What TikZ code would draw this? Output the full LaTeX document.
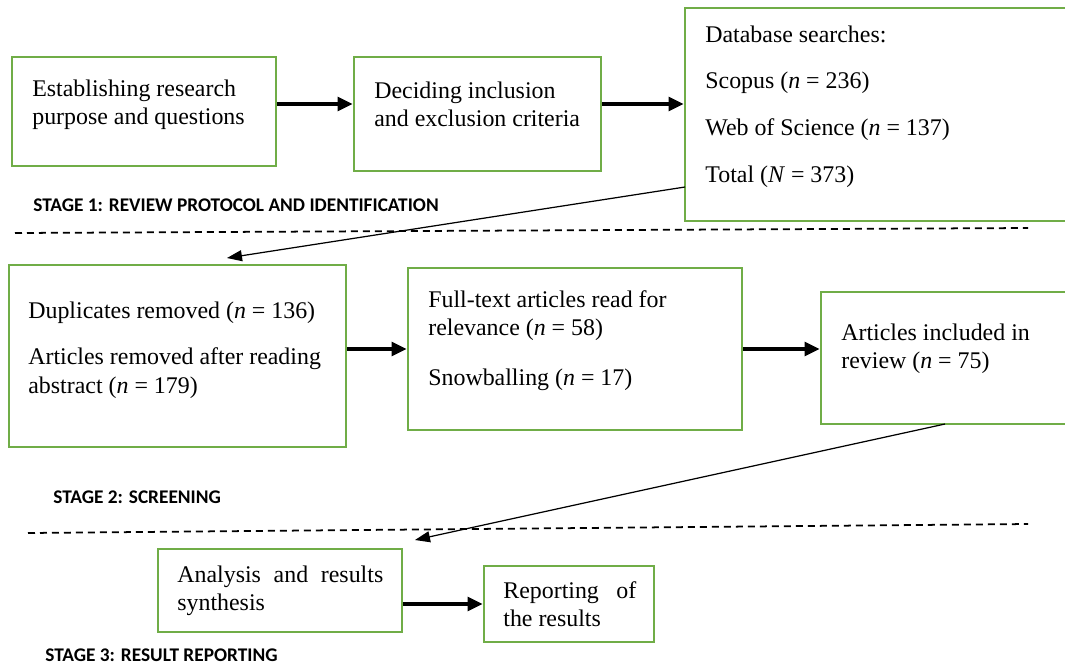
\documentclass[tikz,border=0pt]{standalone}
\usepackage{fontspec}
\setmainfont{Liberation Serif}
\newfontfamily\stagefont{Carlito}
\usetikzlibrary{arrows.meta}
\definecolor{boxgreen}{HTML}{70AD47}
\tikzset{
  stagebox/.style={draw=boxgreen, line width=1.5pt, rectangle, inner sep=0pt},
  boxtext/.style={anchor=north west, align=left, inner sep=0pt, font=\fontsize{13.6}{16.2}\selectfont},
  stagelabel/.style={anchor=base west, inner sep=0pt, font=\stagefont\bfseries\fontsize{11}{13}\selectfont},
  flow/.style={line width=2.3pt, -{Triangle[length=0.3cm,width=0.27cm]}},
  jump/.style={line width=0.7pt, -{Triangle[length=0.3cm,width=0.22cm]}},
  divider/.style={line width=1pt, dash pattern=on 0.14cm off 0.1cm}
}
\newcommand{\firstline}{\rule{0pt}{12pt}}

\begin{document}
\begin{tikzpicture}[x=0.02cm, y=-0.02cm]
\useasboundingbox (0,0) rectangle (1065,667);
\begin{scope}
\clip (0,0) rectangle (1065,667);

% stage 1
\node[stagebox, minimum width=5.28cm, minimum height=2.18cm] (establish) at (144,111.5) {};
\node[stagebox, minimum width=4.94cm, minimum height=2.28cm] (deciding) at (477.5,114) {};
\node[stagebox, minimum width=8.10cm, minimum height=4.26cm] (database) at (887.5,114.5) {};

\node[boxtext] (establishtext) at (32,74.8) {\firstline Establishing research\\purpose and questions};
\node[boxtext] (decidingtext) at (374,76.8) {\firstline Deciding inclusion\\and exclusion criteria};
\node[boxtext] (databasetext) at (705,20.8) {\firstline Database searches:\\[10.4pt]
  Scopus (\textit{n} = 236)\\[10.4pt]
  Web of Science (\textit{n} = 137)\\[10.4pt]
  Total (\textit{N} = 373)};

\node[stagelabel] (stageone) at (33,211) {STAGE 1: REVIEW PROTOCOL AND IDENTIFICATION};

\draw[flow] ([yshift=0.15cm]establish.east) -- ([yshift=0.15cm]establish.east -| deciding.west);
\draw[flow] ([yshift=0.2cm]deciding.east) -- ([yshift=0.2cm]deciding.east -| database.west);

\draw[divider] (15,233) -- (1028,228);

% stage 2
\node[stagebox, minimum width=6.74cm, minimum height=3.64cm] (duplicates) at (177.5,356) {};
\node[stagebox, minimum width=6.68cm, minimum height=3.24cm] (fulltext) at (575,349) {};
\node[stagebox, minimum width=5.38cm, minimum height=2.64cm] (included) at (955.5,358) {};

\node[boxtext] (duplicatestext) at (28,296.8) {\firstline Duplicates removed (\textit{n} = 136)\\[10.4pt]
  Articles removed after reading\\abstract (\textit{n} = 179)};
\node[boxtext] (fulltexttext) at (428,285.8) {\firstline Full-text articles read for\\relevance (\textit{n} = 58)\\[12pt]
  Snowballing (\textit{n} = 17)};
\node[boxtext] (includedtext) at (841,318.8) {\firstline Articles included in\\review (\textit{n} = 75)};

\node[stagelabel] (stagetwo) at (53,503) {STAGE 2: SCREENING};

\coordinate (databaseout) at (685,187);
\coordinate (duplicatesin) at (227,258);
\draw[jump] (databaseout) -- (duplicatesin);

\draw[flow] (duplicates.east |- fulltext.west) -- (fulltext.west);
\draw[flow] (fulltext.east) -- (fulltext.east -| included.west);

\draw[divider] (28,533) -- (1028,524);

% stage 3
\node[stagebox, minimum width=4.88cm, minimum height=1.66cm] (analysis) at (280,590.5) {};
\node[stagebox, minimum width=3.40cm, minimum height=1.52cm] (reporting) at (569,604) {};

\node[boxtext] (analysistext) at (177,560.8) {\firstline\makebox[4.12cm][s]{Analysis and results}\\synthesis};
\node[boxtext] (reportingtext) at (503,576.8) {\firstline\makebox[2.66cm][s]{Reporting of}\\the results};

\node[stagelabel] (stagethree) at (45,661) {STAGE 3: RESULT REPORTING};

\coordinate (includedout) at (945,424);
\coordinate (analysisin) at (415,540);
\draw[jump] (includedout) -- (analysisin);

\draw[flow] (analysis.east |- reporting.west) -- (reporting.west);
\end{scope}
\end{tikzpicture}
\end{document}
